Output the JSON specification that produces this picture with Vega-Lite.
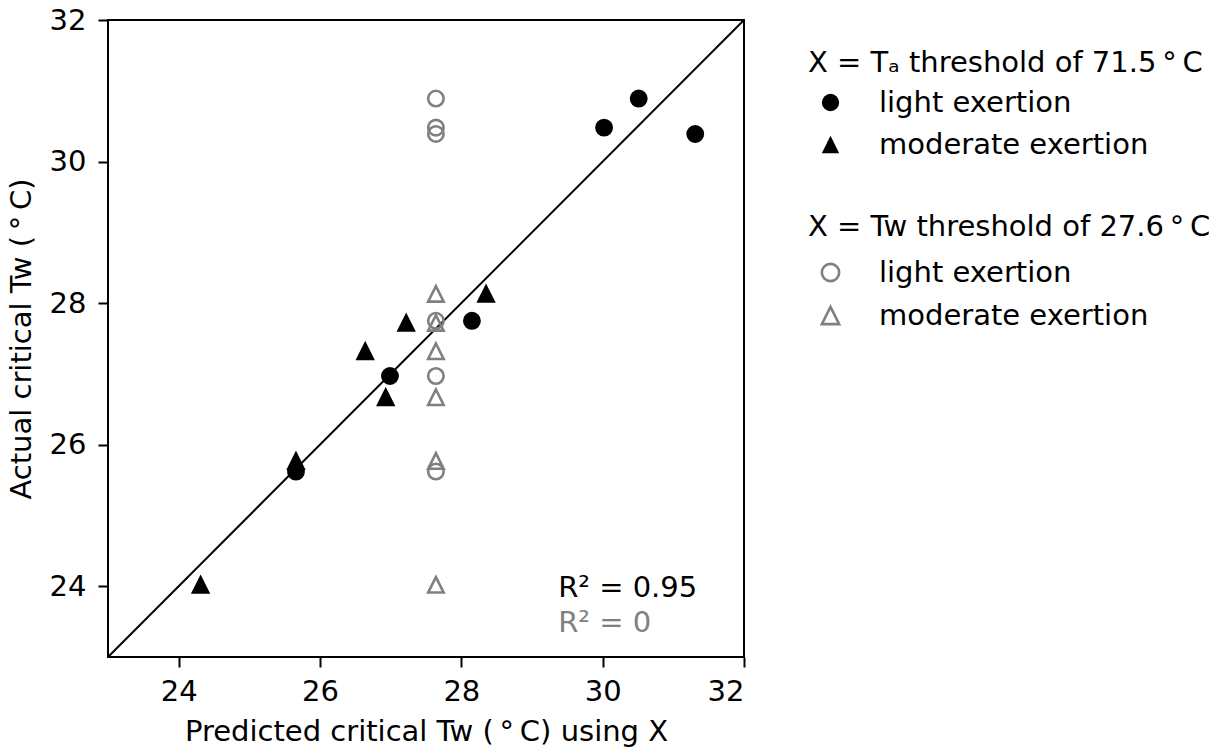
{
  "$schema": "https://vega.github.io/schema/vega-lite/v6.json",
  "width": 636,
  "height": 637,
  "autosize": {"type": "none"},
  "padding": {"left": 108, "top": 20, "right": 485, "bottom": 93},
  "config": {
    "font": "DejaVu Sans",
    "view": {"stroke": "black", "strokeWidth": 2},
    "axis": {
      "domain": false,
      "grid": false,
      "ticks": true,
      "tickSize": 10,
      "tickWidth": 2,
      "tickColor": "black",
      "labelFontSize": 29,
      "labelColor": "black",
      "titleFontSize": 29,
      "titleFontWeight": "normal",
      "titleColor": "black"
    },
    "legend": {
      "titleFontSize": 29,
      "titleFontWeight": "normal",
      "titleColor": "black",
      "labelFontSize": 29,
      "labelColor": "black",
      "labelLimit": 0,
      "titleLimit": 0
    }
  },
  "datasets": {
    "points": [
      {"method": "Ta", "exertion": "light exertion", "predicted": 25.66, "actual": 25.62},
      {"method": "Ta", "exertion": "light exertion", "predicted": 26.99, "actual": 26.97},
      {"method": "Ta", "exertion": "light exertion", "predicted": 28.15, "actual": 27.75},
      {"method": "Ta", "exertion": "light exertion", "predicted": 30.02, "actual": 30.48},
      {"method": "Ta", "exertion": "light exertion", "predicted": 30.51, "actual": 30.89},
      {"method": "Ta", "exertion": "light exertion", "predicted": 31.31, "actual": 30.39},
      {"method": "Ta", "exertion": "moderate exertion", "predicted": 24.31, "actual": 24.02},
      {"method": "Ta", "exertion": "moderate exertion", "predicted": 25.66, "actual": 25.77},
      {"method": "Ta", "exertion": "moderate exertion", "predicted": 26.93, "actual": 26.67},
      {"method": "Ta", "exertion": "moderate exertion", "predicted": 26.64, "actual": 27.32},
      {"method": "Ta", "exertion": "moderate exertion", "predicted": 27.22, "actual": 27.72},
      {"method": "Ta", "exertion": "moderate exertion", "predicted": 28.35, "actual": 28.13},
      {"method": "Tw", "exertion": "light exertion", "predicted": 27.64, "actual": 25.62},
      {"method": "Tw", "exertion": "light exertion", "predicted": 27.64, "actual": 26.97},
      {"method": "Tw", "exertion": "light exertion", "predicted": 27.64, "actual": 27.75},
      {"method": "Tw", "exertion": "light exertion", "predicted": 27.64, "actual": 30.48},
      {"method": "Tw", "exertion": "light exertion", "predicted": 27.64, "actual": 30.89},
      {"method": "Tw", "exertion": "light exertion", "predicted": 27.64, "actual": 30.39},
      {"method": "Tw", "exertion": "moderate exertion", "predicted": 27.64, "actual": 24.02},
      {"method": "Tw", "exertion": "moderate exertion", "predicted": 27.64, "actual": 25.77},
      {"method": "Tw", "exertion": "moderate exertion", "predicted": 27.64, "actual": 26.67},
      {"method": "Tw", "exertion": "moderate exertion", "predicted": 27.64, "actual": 27.32},
      {"method": "Tw", "exertion": "moderate exertion", "predicted": 27.64, "actual": 27.72},
      {"method": "Tw", "exertion": "moderate exertion", "predicted": 27.64, "actual": 28.13}
    ],
    "notes": [
      {"method": "Ta", "px": 29.37, "py": 23.85, "label": "R² = 0.95"},
      {"method": "Tw", "px": 29.37, "py": 23.36, "label": "R² = 0"}
    ],
    "diag": [
      {"x1": 23, "y1": 23, "x2": 32, "y2": 32}
    ]
  },
  "layer": [
    {
      "data": {"name": "diag"},
      "mark": {"type": "rule", "color": "black", "strokeWidth": 2},
      "encoding": {
        "x": {
          "field": "x1", "type": "quantitative",
          "scale": {"domain": [23, 32], "nice": false, "zero": false},
          "axis": {"values": [24, 26, 28, 30, 32], "format": "d", "title": "Predicted critical Tw (\u2009°\u2009C) using X", "labelPadding": 10, "titlePadding": 11}
        },
        "y": {
          "field": "y1", "type": "quantitative",
          "scale": {"domain": [23, 32], "nice": false, "zero": false},
          "axis": {"values": [24, 26, 28, 30, 32], "format": "d", "title": "Actual critical Tw (\u2009°\u2009C)", "labelPadding": 12, "titlePadding": 13}
        },
        "x2": {"field": "x2"},
        "y2": {"field": "y2"}
      }
    },
    {
      "data": {"name": "points"},
      "transform": [{"filter": "datum.method === 'Ta'"}],
      "mark": {"type": "point", "filled": true, "color": "black", "stroke": "black", "strokeWidth": 2.4, "opacity": 1, "size": 240},
      "encoding": {
        "x": {"field": "predicted", "type": "quantitative"},
        "y": {"field": "actual", "type": "quantitative"},
        "shape": {
          "field": "exertion", "type": "nominal",
          "scale": {"domain": ["light exertion", "moderate exertion"], "range": ["circle", "M0,-1L1,1L-1,1Z"]},
          "legend": {
            "title": "X = Tₐ threshold of 71.5\u2009°\u2009C",
            "orient": "none", "legendX": 700, "legendY": 29,
            "symbolFillColor": "black", "symbolStrokeColor": "black", "symbolStrokeWidth": 2.4,
            "symbolSize": 300, "symbolOffset": 8, "labelOffset": 34,
            "rowPadding": 12, "titlePadding": 10
          }
        }
      }
    },
    {
      "data": {"name": "points"},
      "transform": [{"filter": "datum.method === 'Tw'"}],
      "mark": {"type": "point", "filled": false, "color": "#808080", "strokeWidth": 2.6, "opacity": 1, "size": 240},
      "encoding": {
        "x": {"field": "predicted", "type": "quantitative"},
        "y": {"field": "actual", "type": "quantitative"},
        "shape": {
          "field": "exertion", "type": "nominal",
          "scale": {"domain": ["light exertion", "moderate exertion"], "range": ["circle", "M0,-1L1,1L-1,1Z"]},
          "legend": {
            "title": "X = Tw threshold of 27.6\u2009°\u2009C",
            "orient": "none", "legendX": 700, "legendY": 193,
            "symbolFillColor": "transparent", "symbolStrokeColor": "#808080", "symbolStrokeWidth": 2.6,
            "symbolSize": 300, "symbolOffset": 8, "labelOffset": 34,
            "rowPadding": 13, "titlePadding": 16
          }
        }
      }
    },
    {
      "data": {"name": "notes"},
      "mark": {"type": "text", "align": "left", "baseline": "alphabetic", "fontSize": 29},
      "encoding": {
        "x": {"field": "px", "type": "quantitative"},
        "y": {"field": "py", "type": "quantitative"},
        "text": {"field": "label"},
        "color": {
          "field": "method", "type": "nominal",
          "scale": {"domain": ["Ta", "Tw"], "range": ["black", "#808080"]},
          "legend": null
        }
      }
    }
  ],
  "resolve": {"scale": {"shape": "independent"}}
}
